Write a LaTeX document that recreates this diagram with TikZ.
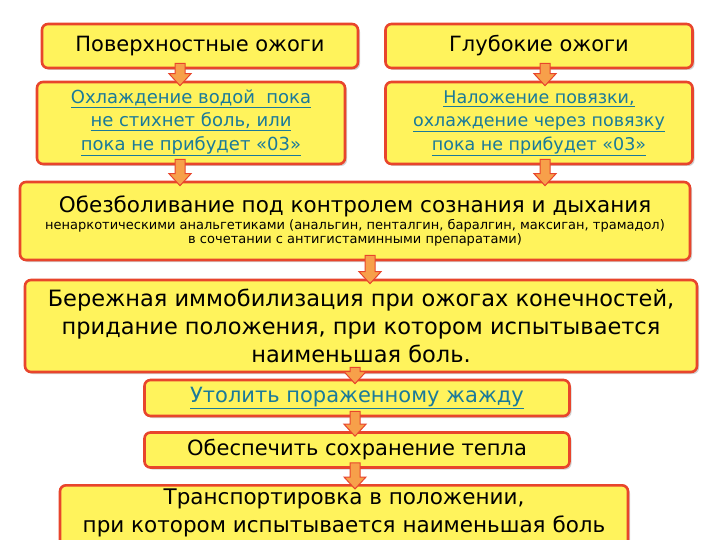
\documentclass[tikz,border=0pt]{standalone}
\usepackage{fontspec}
\setmainfont{DejaVu Sans}
\usetikzlibrary{arrows.meta,shadows,calc}
\definecolor{boxfill}{HTML}{FFF35C}
\definecolor{boxline}{HTML}{E8452C}
\definecolor{linkc}{HTML}{1A7A9A}
\definecolor{arrf}{HTML}{F7A04A}
\newcommand{\lnk}[1]{\underline{#1}}
\newcommand{\blk}[3]{%
  \path (#1.south -| #3) coordinate (s) (#2.north -| #3) coordinate (e);
  \draw[barrow] ($(s)+(-5,-6)$) -- ($(s)+(5,-6)$) -- ($(e)+(5,-7)$) -- ($(e)+(11,-7)$) -- ($(e)+(0,5)$) -- ($(e)+(-11,-7)$) -- ($(e)+(-5,-7)$) -- cycle;}
\begin{document}
\begin{tikzpicture}[x=1pt,y=-1pt,
  box/.style={draw=boxline,line width=2.6pt,fill=boxfill,rounded corners=6pt,
    drop shadow={shadow xshift=2pt,shadow yshift=-2pt,fill=black!35},align=center,inner sep=1pt},
  barrow/.style={draw=boxline,line width=1pt,fill=arrf},
  lk/.style={text=linkc}]
\useasboundingbox (0,0) rectangle (720,540);
\fill[white] (0,0) rectangle (720,540);
\node[box,minimum width=316,minimum height=44,font=\fontsize{21}{24}\selectfont] (b1) at (200,46) {Поверхностные ожоги};
\node[box,minimum width=307,minimum height=44,font=\fontsize{21}{24}\selectfont] (b2) at (539,46) {Глубокие ожоги};
\node[box,minimum width=308,minimum height=82,font=\fontsize{18}{23.5}\selectfont,lk] (b3) at (191,123) {\lnk{Охлаждение водой\ \ пока}\\ \lnk{не стихнет боль, или}\\ \lnk{пока не прибудет «03»}};
\node[box,minimum width=307,minimum height=82,font=\fontsize{17.5}{23.5}\selectfont,lk] (b4) at (539,123) {\lnk{Наложение повязки,}\\ \lnk{охлаждение через повязку}\\ \lnk{пока не прибудет «03»}};
\node[box,minimum width=670,minimum height=78] (b5) at (355,221) {{\fontsize{21.5}{24}\selectfont Обезболивание под контролем сознания и дыхания}\\[1pt]{\fontsize{13}{17}\selectfont ненаркотическими анальгетиками (анальгин, пенталгин, баралгин, максиган, трамадол)}\\{\fontsize{13}{17}\selectfont в сочетании с антигистаминными препаратами)}};
\node[box,minimum width=672,minimum height=92,font=\fontsize{22.5}{28}\selectfont] (b6) at (361,326) {Бережная иммобилизация при ожогах конечностей,\\придание положения, при котором испытывается\\наименьшая боль.};
\node[box,minimum width=425,minimum height=36,font=\fontsize{21}{24}\selectfont,lk] (b7) at (357,398) {\lnk{Утолить пораженному жажду}};
\node[box,minimum width=425,minimum height=35,font=\fontsize{21}{24}\selectfont] (b8) at (357,450) {Обеспечить сохранение тепла};
\node[box,minimum width=568,minimum height=62,font=\fontsize{21.5}{28}\selectfont,anchor=north,inner sep=0pt] (b9) at (344,484) {\rule{0pt}{19pt}Транспортировка в положении,\\при котором испытывается наименьшая боль\\[9pt]};
\blk{b1}{b3}{180,0}
\blk{b2}{b4}{545,0}
\blk{b3}{b5}{180,0}
\blk{b4}{b5}{545,0}
\blk{b5}{b6}{370,0}
\blk{b6}{b7}{355,0}
\blk{b7}{b8}{355,0}
\blk{b8}{b9}{355,0}
\end{tikzpicture}
\end{document}
